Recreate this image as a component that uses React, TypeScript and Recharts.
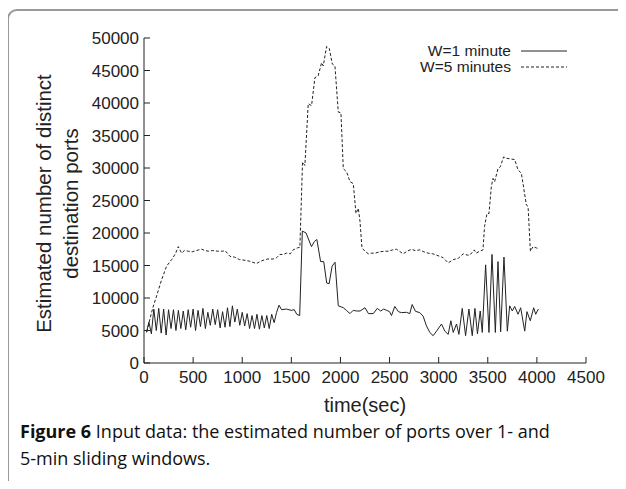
import { Legend, Line, LineChart, XAxis, YAxis } from "recharts";

const xTicks = [0, 500, 1000, 1500, 2000, 2500, 3000, 3500, 4000, 4500];
const yTicks = [0, 5000, 10000, 15000, 20000, 25000, 30000, 35000, 40000, 45000, 50000];

// W=1 minute
const w1Time = [
  25, 50, 75, 100, 125, 150, 175, 200, 225, 250, 275, 300, 325, 350, 375, 400, 425, 450, 475, 500,
  525, 550, 575, 600, 625, 650, 675, 700, 725, 750, 775, 800, 825, 850, 875, 900, 925, 950, 975, 1000,
  1025, 1050, 1075, 1100, 1125, 1150, 1175, 1200, 1225, 1250, 1275, 1300, 1325, 1350, 1375, 1400, 1450,
  1500, 1530, 1555, 1585, 1612, 1650, 1705, 1735, 1760, 1798, 1830, 1860, 1885, 1915, 1945, 1978, 2030,
  2060, 2097, 2130, 2165, 2200, 2250, 2285, 2335, 2375, 2410, 2440, 2471, 2500, 2520, 2553, 2590, 2621,
  2672, 2706, 2730, 2764, 2808, 2842, 2876, 2910, 2944, 2978, 3029, 3063, 3097, 3124, 3148, 3182, 3206,
  3240, 3274, 3308, 3342, 3369, 3395, 3423, 3444, 3478, 3512, 3543, 3577, 3604, 3631, 3665, 3699, 3723,
  3750, 3774, 3808, 3835, 3876, 3899, 3933, 3967, 3988, 4015,
];
const w1Value = [
  4700, 6300, 4500, 8300, 5000, 8400, 4600, 8300, 4300, 8200, 5300, 8200, 5000, 8100, 5300, 8000, 5100, 8200, 5500, 8300,
  5000, 8100, 5600, 8400, 5300, 7800, 5800, 8300, 5900, 8200, 5400, 7900, 5500, 8500, 5600, 8800, 6300, 8300, 5800, 7800,
  5700, 7600, 5300, 7300, 5300, 7500, 5200, 7300, 5400, 7300, 5300, 7500, 6200, 7800, 8900, 8200, 8300,
  8100, 8200, 7500, 7300, 20300, 20000, 17900, 18700, 19000, 15600, 15600, 12300, 12200, 14900, 15500, 8800, 8500,
  8100, 7600, 8100, 8000, 8000, 8500, 7600, 7600, 8400, 8000, 8300, 8100, 7900, 7300, 8700, 7900, 7750,
  7800, 7600, 9000, 7950, 7750, 7200, 5700, 4700, 4200, 4900, 6000, 4900, 4400, 6500, 4700, 6000, 4400,
  8400, 4200, 8300, 4200, 8400, 4500, 8000, 4700, 15100, 4700, 16700, 4700, 15600, 4800, 16300, 4900, 8800,
  8000, 8700, 7500, 8500, 4900, 7900, 6500, 8500, 7500, 8300,
];

// W=5 minutes
const w5Time = [
  30, 59, 90, 128, 179, 230, 281, 320, 349, 383, 410, 451, 490, 530, 587, 620, 655, 700, 750, 800, 825,
  876, 920, 974, 1030, 1077, 1145, 1180, 1212, 1260, 1314, 1350, 1383, 1420, 1451, 1490, 1518, 1560, 1587,
  1614, 1638, 1672, 1706, 1740, 1774, 1808, 1825, 1859, 1886, 1917, 1944, 1978, 2005, 2029, 2063, 2097,
  2131, 2158, 2182, 2199, 2219, 2250, 2284, 2320, 2352, 2400, 2450, 2488, 2530, 2570, 2600, 2638, 2680,
  2723, 2760, 2808, 2850, 2893, 2940, 2978, 3046, 3097, 3148, 3199, 3250, 3290, 3318, 3362, 3383, 3417,
  3451, 3467, 3492, 3512, 3536, 3553, 3570, 3604, 3628, 3661, 3689, 3774, 3808, 3842, 3893, 3910, 3934,
  3961, 3995, 4022,
];
const w5Value = [
  4800, 6700, 8500, 10300, 12800, 14900, 15900, 16800, 17900, 16900, 17300, 17200, 17100, 17300, 17500, 17300, 17200, 17300, 17200, 17200, 17300,
  16400, 16300, 15900, 15800, 15650, 15300, 15600, 15800, 16000, 16000, 16200, 16700, 16700, 16900, 16800, 17400, 17700, 17800,
  30900, 30400, 39900, 39600, 43900, 44200, 46200, 45700, 48700, 48400, 46000, 45700, 38600, 38500, 29900, 29400, 27900,
  27600, 23000, 23800, 21800, 17700, 17200, 16800, 16900, 16900, 17100, 17200, 17200, 17400, 17500, 17200, 16800, 17200,
  17500, 17300, 17400, 17100, 16900, 16800, 16600, 16200, 15400, 15900, 16100, 16800, 16600, 16600, 17400, 16900, 17200,
  17400, 21000, 23000, 23000, 27100, 28400, 27900, 29900, 30200, 31700, 31500, 31300, 29700, 29200, 24300, 24100, 17200,
  17900, 17700, 17600,
];

const w1Data = w1Time.map((t, i) => ({ t, v: w1Value[i] }));
const w5Data = w5Time.map((t, i) => ({ t, v: w5Value[i] }));

const tickFont = { fontFamily: "Liberation Sans, Arial, sans-serif", fontSize: 17, fill: "#222" };
const blank = () => "";

const YLabel = ({ viewBox }: any) => {
  const cy = viewBox.y + viewBox.height / 2 + 3;
  return (
    <text
      transform={`rotate(-90, 0, ${cy})`}
      x={0}
      y={cy}
      textAnchor="middle"
      fontFamily="Liberation Sans, Arial, sans-serif"
      fontSize={20.5}
      fill="#222"
    >
      <tspan x={0} y={cy + 51}>Estimated number of distinct</tspan>
      <tspan x={0} y={cy + 78}>destination ports</tspan>
    </text>
  );
};

const XLabel = ({ viewBox }: any) => (
  <text
    x={viewBox.x + viewBox.width / 2}
    y={viewBox.y + 49}
    textAnchor="middle"
    fontFamily="Liberation Sans, Arial, sans-serif"
    fontSize={20}
    fill="#222"
  >
    time(sec)
  </text>
);

const KeyBox = ({ payload }: any) => (
  <div style={{ fontFamily: "Liberation Sans, Arial, sans-serif", fontSize: 15.5, color: "#222" }}>
    {(payload || []).map((e: any) => (
      <div
        key={e.value}
        style={{ display: "flex", alignItems: "center", justifyContent: "flex-end", height: 16, lineHeight: "16px" }}
      >
        <span>{e.value}</span>
        <svg width={52} height={10} style={{ marginLeft: 6 }}>
          <line
            x1={4}
            x2={50}
            y1={5}
            y2={5}
            stroke="#222"
            strokeWidth={1}
            strokeDasharray={e.payload?.strokeDasharray}
          />
        </svg>
      </div>
    ))}
  </div>
);

export default function App() {
  return (
    <div style={{ position: "relative", width: 626, height: 489, margin: -8, overflow: "hidden", background: "#fff" }}>
      <div
        style={{
          position: "absolute",
          left: 7,
          top: 9,
          width: 700,
          height: 600,
          border: "2px solid #999",
          borderTopLeftRadius: 10,
        }}
      />
      <div style={{ position: "absolute", left: 0, top: 0 }}>
        <LineChart width={626} height={489} margin={{ top: 38, right: 40, bottom: 0, left: 0 }}>
          <XAxis
            xAxisId="b"
            dataKey="t"
            type="number"
            domain={[0, 4500]}
            ticks={xTicks}
            interval={0}
            height={126}
            tickSize={-6}
            tickMargin={14}
            tick={tickFont}
            stroke="#222"
            label={<XLabel />}
          />
          <XAxis
            xAxisId="t"
            dataKey="t"
            type="number"
            orientation="top"
            domain={[0, 4500]}
            ticks={xTicks}
            interval={0}
            height={0}
            tickSize={-6}
            tickFormatter={blank}
            stroke="#222"
          />
          <YAxis
            yAxisId="l"
            type="number"
            domain={[0, 50000]}
            ticks={yTicks}
            interval={0}
            width={144}
            tickSize={-6}
            tickMargin={11}
            tick={tickFont}
            stroke="#222"
            label={<YLabel />}
          />
          <YAxis
            yAxisId="r"
            type="number"
            orientation="right"
            domain={[0, 50000]}
            ticks={yTicks}
            interval={0}
            width={0}
            tickSize={-6}
            tickFormatter={blank}
            stroke="#222"
          />
          <Legend
            layout="vertical"
            verticalAlign="middle"
            align="center"
            content={<KeyBox />}
            wrapperStyle={{ position: "absolute", top: 43, right: 57, left: "auto", bottom: "auto", width: "auto" }}
          />
          <Line
            xAxisId="b"
            yAxisId="l"
            data={w1Data}
            dataKey="v"
            name="W=1 minute"
            stroke="#222"
            strokeWidth={1}
            dot={false}
            isAnimationActive={false}
          />
          <Line
            xAxisId="t"
            yAxisId="r"
            data={w5Data}
            dataKey="v"
            name="W=5 minutes"
            stroke="#222"
            strokeWidth={1}
            strokeDasharray="3 2"
            dot={false}
            isAnimationActive={false}
          />
        </LineChart>
      </div>
      <div
        style={{
          position: "absolute",
          left: 20,
          top: 418,
          fontFamily: "Open Sans, Noto Sans, sans-serif",
          fontSize: 18,
          lineHeight: "27px",
          color: "#111",
          whiteSpace: "nowrap",
        }}
      >
        <div>
          <span style={{ fontWeight: 700 }}>Figure 6</span>
          <span> Input data: the estimated number of ports over 1- and</span>
        </div>
        <div>5-min sliding windows.</div>
      </div>
    </div>
  );
}
